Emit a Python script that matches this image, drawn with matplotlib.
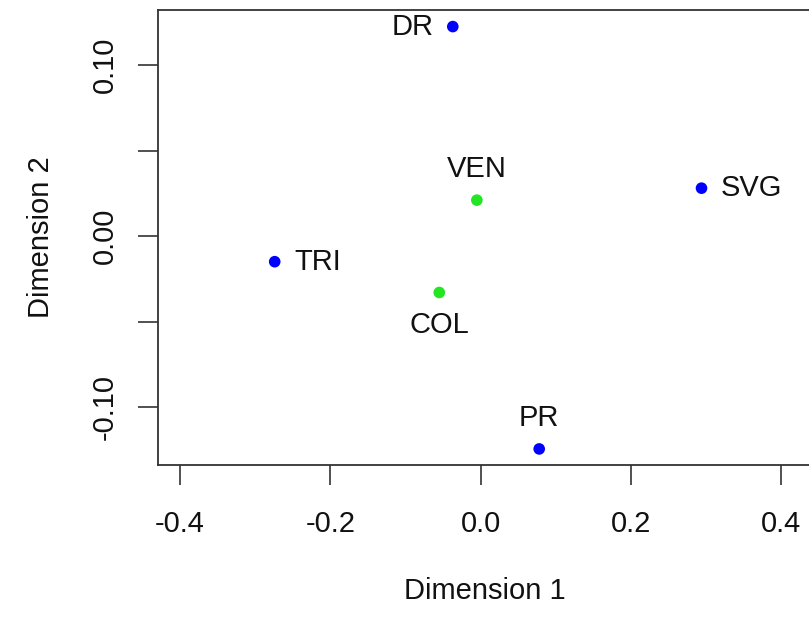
import matplotlib
matplotlib.use('Agg')
import matplotlib.pyplot as plt

names = ['DR', 'SVG', 'VEN', 'TRI', 'COL', 'PR']
dim1 = [-0.037, 0.294, -0.005, -0.274, -0.055, 0.078]
dim2 = [0.1225, 0.0280, 0.0210, -0.0150, -0.0330, -0.1245]
colors = ['#0000FF', '#0000FF', '#22E622', '#0000FF', '#22E622', '#0000FF']
# where the label sits relative to the point (R pos: 1 below, 2 left, 3 above, 4 right)
label_pos = [2, 4, 3, 4, 1, 3]

x_ticks = [-0.4, -0.2, 0.0, 0.2, 0.4]
x_ticklabels = ['-0.4', '-0.2', '0.0', '0.2', '0.4']
y_ticks = [-0.10, -0.05, 0.0, 0.05, 0.10]
y_ticklabels = ['-0.10', '', '0.00', '', '0.10']

plt.rcParams['font.family'] = ['Liberation Sans', 'DejaVu Sans']
fs = 21

fig = plt.figure(figsize=(8.09, 6.17), dpi=100)
ax = fig.add_axes([157.7 / 809, 1 - 465 / 617, (811 - 157.7) / 809, (465 - 10) / 617])

ax.scatter(dim1, dim2, s=70, c=colors, edgecolors='none', zorder=3)

offsets = {1: (0, -13, 'center', 'top'), 2: (-14, 0, 'right', 'center'),
           3: (0, 12, 'center', 'bottom'), 4: (14, 0, 'left', 'center')}
for n, x, y, p in zip(names, dim1, dim2, label_pos):
    dx, dy, ha, va = offsets[p]
    ax.annotate(n, (x, y), xytext=(dx, dy), textcoords='offset points',
                ha=ha, va=va, fontsize=fs, color='#111111')

ax.set_xlim(-0.4297, 0.4397)
ax.set_ylim(-0.1339, 0.1322)
ax.set_xticks(x_ticks)
ax.set_xticklabels(x_ticklabels)
ax.set_yticks(y_ticks)
ax.set_yticklabels(y_ticklabels, rotation=90, va='center')

for s in ax.spines.values():
    s.set_linewidth(1.3)
    s.set_color('#333333')
ax.tick_params(axis='both', length=14.5, width=1.2, color='#333333',
               labelsize=fs, labelcolor='#111111')
ax.tick_params(axis='x', pad=18)
ax.tick_params(axis='y', pad=13.5)

ax.set_xlabel('Dimension 1', fontsize=fs, color='#111111', labelpad=28)
ax.set_ylabel('Dimension 2', fontsize=fs, color='#111111', labelpad=26)

fig.savefig('out.png', dpi=100, facecolor='white')
